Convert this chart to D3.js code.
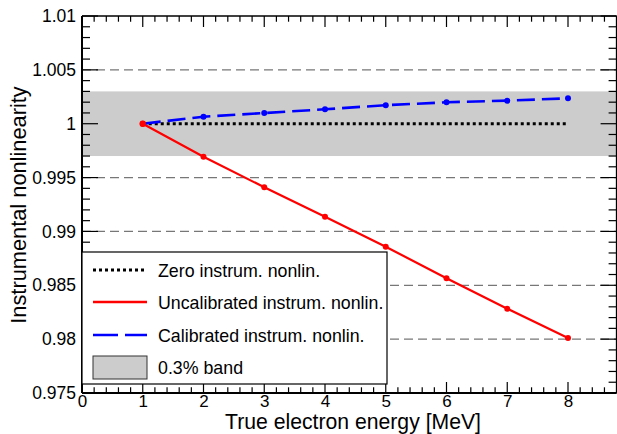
<!DOCTYPE html>
<html>
<head>
<meta charset="utf-8">
<script src="https://cdn.jsdelivr.net/npm/d3@7"></script>
<style>
  body { margin: 0; background: #fff; }
  svg text { font-family: "Liberation Sans", Arial, sans-serif; }
</style>
</head>
<body>
<div id="chart"></div>
<script>
// energies (MeV) and nonlinearity values
var energies = [1, 2, 3, 4, 5, 6, 7, 8];
var zeroNonlin = [1, 1, 1, 1, 1, 1, 1, 1];
var uncalibrated = [1.0000, 0.99694, 0.99410, 0.99137, 0.98858, 0.98565, 0.98283, 0.98010];
var calibrated = [1.0000, 1.00065, 1.00099, 1.00134, 1.00172, 1.00199, 1.00214, 1.00236];
var band = [0.997, 1.003];
var xTicks = [0, 1, 2, 3, 4, 5, 6, 7, 8];
var yTicks = [0.975, 0.98, 0.985, 0.99, 0.995, 1, 1.005, 1.01];
var yTickLabels = ["0.975", "0.98", "0.985", "0.99", "0.995", "1", "1.005", "1.01"];
var legendLabels = ["Zero instrum. nonlin.", "Uncalibrated instrum. nonlin.", "Calibrated instrum. nonlin.", "0.3% band"];

var w = 617, h = 434;
var pLeft = 82, pRight = 616.6, pTop = 16, pBottom = 393;

var svg = d3.select("#chart").append("svg")
    .attr("width", w)
    .attr("height", h);

var x = d3.scaleLinear().domain([0, 8.8]).range([pLeft, pRight]);
var y = d3.scaleLinear().domain([0.975, 1.01]).range([pBottom, pTop]);

//grid lines at major y ticks
svg.append("g").selectAll("line")
    .data(yTicks.slice(1, -1))
    .enter()
    .append("line")
    .attr("x1", pLeft).attr("x2", pRight)
    .attr("y1", d => y(d)).attr("y2", d => y(d))
    .style("stroke", "#777")
    .style("stroke-width", 1.2)
    .style("stroke-dasharray", "9,5");

//0.3% band
svg.append("rect")
    .attr("x", pLeft)
    .attr("y", y(band[1]))
    .attr("width", pRight - pLeft)
    .attr("height", y(band[0]) - y(band[1]))
    .style("fill", "#cccccc");

//frame ticks
var xMinor = d3.range(0, 45).map(i => i * 0.2).filter(v => v <= 8.8 + 1e-9);
var yMinor = d3.range(0, 36).map(i => 0.975 + i * 0.001);

var ticks = svg.append("g").style("stroke", "#000").style("stroke-width", 1.2);
xMinor.forEach(function(v) {
    var major = Math.abs(v - Math.round(v)) < 1e-6;
    var len = major ? 11 : 5.7;
    ticks.append("line").attr("x1", x(v)).attr("x2", x(v)).attr("y1", pBottom).attr("y2", pBottom - len);
    ticks.append("line").attr("x1", x(v)).attr("x2", x(v)).attr("y1", pTop).attr("y2", pTop + len);
});
yMinor.forEach(function(v, i) {
    var major = i % 5 === 0;
    var len = major ? 16 : 8;
    ticks.append("line").attr("x1", pLeft).attr("x2", pLeft + len).attr("y1", y(v)).attr("y2", y(v));
    ticks.append("line").attr("x1", pRight).attr("x2", pRight - len).attr("y1", y(v)).attr("y2", y(v));
});

//frame
svg.append("line").attr("x1", pLeft).attr("x2", pRight).attr("y1", pTop).attr("y2", pTop)
    .style("stroke", "#000").style("stroke-width", 1.5);
svg.append("line").attr("x1", pRight).attr("x2", pRight).attr("y1", pTop).attr("y2", pBottom)
    .style("stroke", "#000").style("stroke-width", 1.5);
svg.append("line").attr("x1", pLeft).attr("x2", pRight).attr("y1", pBottom).attr("y2", pBottom)
    .style("stroke", "#000").style("stroke-width", 2);
svg.append("line").attr("x1", pLeft).attr("x2", pLeft).attr("y1", pTop).attr("y2", pBottom)
    .style("stroke", "#000").style("stroke-width", 2);

//tick labels
var xAxis = d3.axisBottom(x).tickValues(xTicks).tickSize(0).tickPadding(2).tickFormat(d3.format("d"));
var gx = svg.append("g").attr("transform", "translate(0," + pBottom + ")").call(xAxis);
gx.select(".domain").remove();
gx.selectAll("text").style("font-size", "17px").style("fill", "#000")
    .style("font-family", "'Liberation Sans', Arial, sans-serif");

var yAxis = d3.axisLeft(y).tickValues(yTicks).tickSize(0).tickPadding(6)
    .tickFormat((d, i) => yTickLabels[i]);
var gy = svg.append("g").attr("transform", "translate(" + pLeft + ",0)").call(yAxis);
gy.select(".domain").remove();
gy.selectAll("text").style("font-size", "17.5px").style("fill", "#000")
    .style("font-family", "'Liberation Sans', Arial, sans-serif");

//axis titles
svg.append("text")
    .attr("x", 353).attr("y", 428.5)
    .attr("text-anchor", "middle")
    .style("font-size", "21.2px")
    .text("True electron energy [MeV]");

svg.append("text")
    .attr("transform", "translate(26,205) rotate(-90)")
    .attr("text-anchor", "middle")
    .style("font-size", "21.8px")
    .text("Instrumental nonlinearity");

//series
var line = d3.line().x(d => x(d[0])).y(d => y(d[1]));

svg.append("path")
    .datum(energies.map((e, i) => [e, zeroNonlin[i]]))
    .attr("d", line)
    .style("fill", "none")
    .style("stroke", "#000")
    .style("stroke-width", 3)
    .style("stroke-dasharray", "3,3");

svg.append("path")
    .datum(energies.map((e, i) => [e, uncalibrated[i]]))
    .attr("d", line)
    .style("fill", "none")
    .style("stroke", "#ff0000")
    .style("stroke-width", 2.2);

svg.append("g").selectAll("circle")
    .data(energies.map((e, i) => [e, uncalibrated[i]]))
    .enter()
    .append("circle")
    .attr("cx", d => x(d[0]))
    .attr("cy", d => y(d[1]))
    .attr("r", 3)
    .style("fill", "#ff0000");

svg.append("path")
    .datum(energies.map((e, i) => [e, calibrated[i]]))
    .attr("d", line)
    .style("fill", "none")
    .style("stroke", "#0000ff")
    .style("stroke-width", 2.6)
    .style("stroke-dasharray", "18,7");

svg.append("g").selectAll("circle")
    .data(energies.slice(1).map((e, i) => [e, calibrated[i + 1]]))
    .enter()
    .append("circle")
    .attr("cx", d => x(d[0]))
    .attr("cy", d => y(d[1]))
    .attr("r", 3)
    .style("fill", "#0000ff");

//red marker at 1 drawn on top
svg.append("circle")
    .attr("cx", x(energies[0]))
    .attr("cy", y(uncalibrated[0]))
    .attr("r", 3.2)
    .style("fill", "#ff0000");

//legend
var lg = svg.append("g");
lg.append("rect")
    .attr("x", pLeft).attr("y", 252)
    .attr("width", 387 - pLeft).attr("height", 132)
    .style("fill", "#fff")
    .style("stroke", "#000")
    .style("stroke-width", 1.2);

var rowY = [270, 302, 335, 367];
var styles = [
    { stroke: "#000", width: 3, dash: "3,3" },
    { stroke: "#ff0000", width: 2.5, dash: null },
    { stroke: "#0000ff", width: 2.6, dash: "25,7" }
];
styles.forEach(function(s, i) {
    lg.append("line")
        .attr("x1", 93).attr("x2", 147)
        .attr("y1", rowY[i]).attr("y2", rowY[i])
        .style("stroke", s.stroke)
        .style("stroke-width", s.width)
        .style("stroke-dasharray", s.dash);
});
lg.append("rect")
    .attr("x", 93).attr("y", 356)
    .attr("width", 54).attr("height", 23)
    .style("fill", "#cccccc")
    .style("stroke", "#333")
    .style("stroke-width", 1);

lg.selectAll("text.lab")
    .data(legendLabels)
    .enter()
    .append("text")
    .attr("class", "lab")
    .attr("x", 158)
    .attr("y", (d, i) => rowY[i] + 6.5)
    .style("font-size", "17.8px")
    .text(d => d);
</script>
</body>
</html>
